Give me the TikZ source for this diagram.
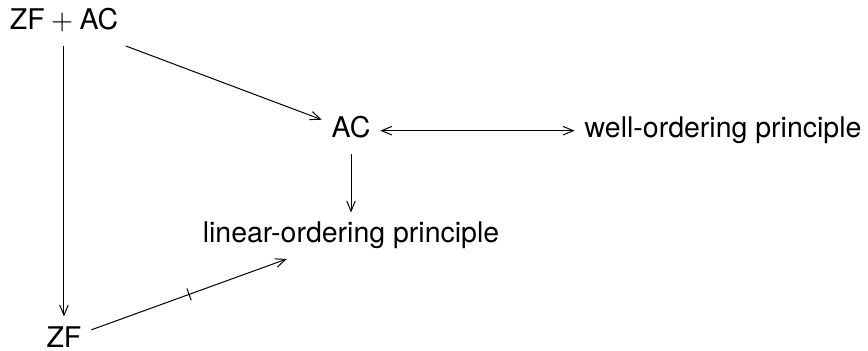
\documentclass[tikz,border=0pt]{standalone}
\usepackage{amsmath}
\usepackage{fontspec}
\setmainfont{TeX Gyre Heros}
\usetikzlibrary{positioning,arrows.meta,decorations.markings}

\begin{document}
\begin{tikzpicture}[on grid,auto,line width=0.35pt,
    >={Straight Barb[length=3.6pt,width=3pt]},
    every node/.style={text height=0.72em,text depth=0.21em},
    notimp/.style={postaction={decorate},
      decoration={markings,mark=at position .5 with {\draw[-] (0,-2.2pt) -- (0,2.2pt);}}}]
   \useasboundingbox (-0.789,0.280) rectangle (9.916,-4.037);
   \node (zf_ac) {ZF${}+{}$AC};
   \node (ac)    [below right=1.332cm and 3.540cm of zf_ac] {AC};
   \node (wop)   [right=4.588cm of ac] {well-ordering principle};
   \node (lop)   [below=1.295cm of ac] {linear-ordering principle};
   \node (zf)    [below=3.910cm of zf_ac] {ZF};
    \path[->]
    (zf_ac) edge (ac)
    (zf_ac) edge (zf)
    (ac)    edge[<->] (wop)
    (ac)    edge (lop)
    (zf)    edge[notimp] (lop);
\end{tikzpicture}
\end{document}
